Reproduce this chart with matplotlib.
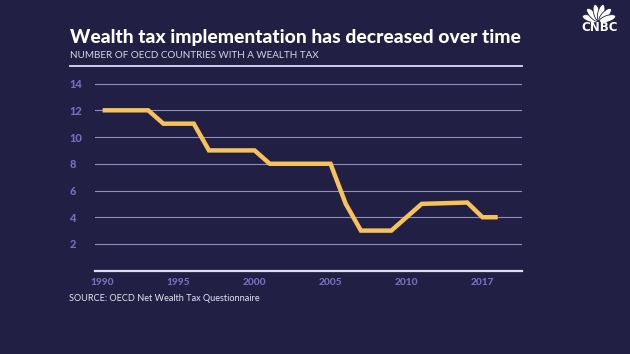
import math
import matplotlib
matplotlib.use("Agg")
import matplotlib.pyplot as plt
from matplotlib.lines import Line2D
from matplotlib.patches import Ellipse

plt.rcParams['font.family'] = ['Lato', 'DejaVu Sans']

years = [1990, 1993, 1994, 1996, 1997, 2000, 2001, 2005, 2006, 2007, 2009, 2011, 2014, 2015, 2016]
countries = [12, 12, 11, 11, 9, 9, 8, 8, 5, 3, 3, 5, 5.1, 4, 4]
x_tick_pos = [1990, 1995, 2000, 2005, 2010, 2015]
x_tick_labels = ['1990', '1995', '2000', '2005', '2010', '2017']
y_ticks = [2, 4, 6, 8, 10, 12, 14]

BG = '#211f44'
W, H = 630, 354
fig = plt.figure(figsize=(6.3, 3.54), dpi=100, facecolor=BG)

ax = fig.add_axes([95 / W, 1 - 270.7 / H, 427 / W, 200.5 / H])
ax.set_facecolor(BG)
ax.set_xlim(1989.5, 2017.6)
ax.set_ylim(0, 15)

for y in y_ticks:
    ax.axhline(y, color='#8f8dc2', lw=0.8, zorder=1)
ax.plot(years, countries, color='#f7c25a', lw=3.2, solid_joinstyle='miter',
        solid_capstyle='butt', zorder=3)

for s in ['top', 'right', 'left']:
    ax.spines[s].set_visible(False)
ax.spines['bottom'].set_color('#dcdcf2')
ax.spines['bottom'].set_linewidth(1.6)

ax.set_yticks(y_ticks)
ax.set_yticklabels([str(v) for v in y_ticks])
ax.set_xticks(x_tick_pos)
ax.set_xticklabels(x_tick_labels)
ax.tick_params(axis='y', length=0, pad=18.5, labelsize=8, labelcolor='#7470bd')
ax.tick_params(axis='x', length=0, pad=5, labelsize=7.3, labelcolor='#7470bd')
for lab in ax.get_yticklabels():
    lab.set_horizontalalignment('left')
    lab.set_fontweight('black')
for lab in ax.get_xticklabels():
    lab.set_fontweight('black')

fig.text(70 / W, 1 - 43 / H, 'Wealth tax implementation has decreased over time',
         color='white', fontsize=13.9, fontweight='black', ha='left', va='baseline')
fig.text(70 / W, 1 - 58.5 / H, 'NUMBER OF OECD COUNTRIES WITH A WEALTH TAX',
         color='#d6d6e6', fontsize=7.1, ha='left', va='baseline')
fig.add_artist(Line2D([70 / W, 522 / W], [1 - 66 / H, 1 - 66 / H],
                      transform=fig.transFigure, color='#dcdcf2', lw=1.3))
fig.text(69 / W, 1 - 301 / H, 'SOURCE: OECD Net Wealth Tax Questionnaire',
         color='#e6e6f0', fontsize=6.6, ha='left', va='baseline')

# CNBC logo
fig.text(600 / W, 1 - 31 / H, 'CNBC', color='white', fontsize=8.5, fontweight='bold',
         family='DejaVu Sans', ha='center', va='baseline')
cx, cy = 599, H - 21.5
for ang in [-72, -43, -14, 14, 43, 72]:
    r = 9.0
    ex = cx + r * math.sin(math.radians(ang))
    ey = cy + r * math.cos(math.radians(ang))
    fig.add_artist(Ellipse((ex, ey), 6.5, 17, angle=-ang, transform=None,
                           facecolor='white', edgecolor=BG, lw=0.6))

fig.savefig('out.png', dpi=100, facecolor=BG)
